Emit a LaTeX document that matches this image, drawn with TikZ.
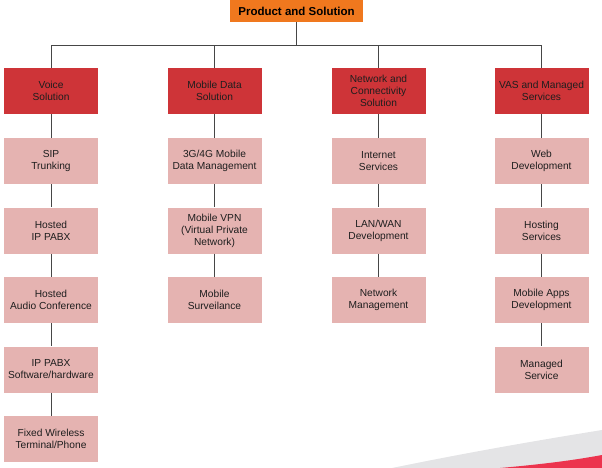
\documentclass[tikz,border=0pt]{standalone}
\usepackage{fontspec}
\setmainfont{Liberation Sans}
\definecolor{topor}{RGB}{240,120,30}
\definecolor{catred}{RGB}{206,52,56}
\definecolor{subpink}{RGB}{229,179,177}
\definecolor{linegray}{RGB}{70,70,70}
\definecolor{txt}{RGB}{30,30,30}
\definecolor{swgray}{RGB}{228,228,230}
\definecolor{swred}{RGB}{236,52,78}
\tikzset{
  topbox/.style={fill=topor, minimum width=133pt, minimum height=22pt, inner sep=0pt,
    font=\fontsize{11.5pt}{13pt}\selectfont\bfseries, text=black},
  catbox/.style={fill=catred, minimum width=94pt, minimum height=46pt, inner sep=0pt,
    align=center, font=\fontsize{10.2pt}{12pt}\selectfont, text=txt},
  subbox/.style={fill=subpink, minimum width=94pt, minimum height=46pt, inner sep=0pt,
    align=center, font=\fontsize{10.2pt}{12pt}\selectfont, text=txt},
  conn/.style={draw=linegray, line width=1pt}
}
\begin{document}
\begin{tikzpicture}[x=1pt,y=-1pt]
\useasboundingbox (0,0) rectangle (602,468);
% decorative swoosh
\fill[swgray] (392,468) .. controls (470,452) and (540,440) .. (602,430) -- (602,468) -- cycle;
\fill[swred] (500,468) .. controls (545,464) and (575,460) .. (602,455) -- (602,468) -- cycle;

\node[topbox] (top) at (296.5,11) {Product and Solution};
\coordinate (bus) at (296.5,46);

\node[catbox] (c1) at (51,91) {Voice\\Solution};
\node[catbox] (c2) at (214.5,91) {Mobile Data\\Solution};
\node[catbox] (c3) at (378.5,91) {Network and\\Connectivity\\Solution};
\node[catbox] (c4) at (541.5,91) {VAS and Managed\\Services};

\node[subbox] (v1) at (51,161) {SIP\\Trunking};
\node[subbox] (v2) at (51,230.5) {Hosted\\IP PABX};
\node[subbox] (v3) at (51,300) {Hosted\\Audio Conference};
\node[subbox] (v4) at (51,369.5) {IP PABX\\Software/hardware};
\node[subbox] (v5) at (51,439) {Fixed Wireless\\Terminal/Phone};

\node[subbox] (m1) at (214.5,161) {3G/4G Mobile\\Data Management};
\node[subbox] (m2) at (214.5,230.5) {Mobile VPN\\(Virtual Private\\Network)};
\node[subbox] (m3) at (214.5,300) {Mobile\\Surveilance};

\node[subbox] (n1) at (378.5,161) {Internet\\Services};
\node[subbox] (n2) at (378.5,230.5) {LAN/WAN\\Development};
\node[subbox] (n3) at (378.5,300) {Network\\Management};

\node[subbox] (s1) at (541.5,161) {Web\\Development};
\node[subbox] (s2) at (541.5,230.5) {Hosting\\Services};
\node[subbox] (s3) at (541.5,300) {Mobile Apps\\Development};
\node[subbox] (s4) at (541.5,369.5) {Managed\\Service};

\draw[conn] (top.south) -- (bus);
\foreach \c in {c1,c2,c3,c4} { \draw[conn] (\c.north) |- (bus); }
\draw[conn] (c1.south) -- (v1.north) (v1.south) -- (v2.north) (v2.south) -- (v3.north) (v3.south) -- (v4.north) (v4.south) -- (v5.north);
\draw[conn] (c2.south) -- (m1.north) (m1.south) -- (m2.north) (m2.south) -- (m3.north);
\draw[conn] (c3.south) -- (n1.north) (n1.south) -- (n2.north) (n2.south) -- (n3.north);
\draw[conn] (c4.south) -- (s1.north) (s1.south) -- (s2.north) (s2.south) -- (s3.north) (s3.south) -- (s4.north);
\end{tikzpicture}
\end{document}
